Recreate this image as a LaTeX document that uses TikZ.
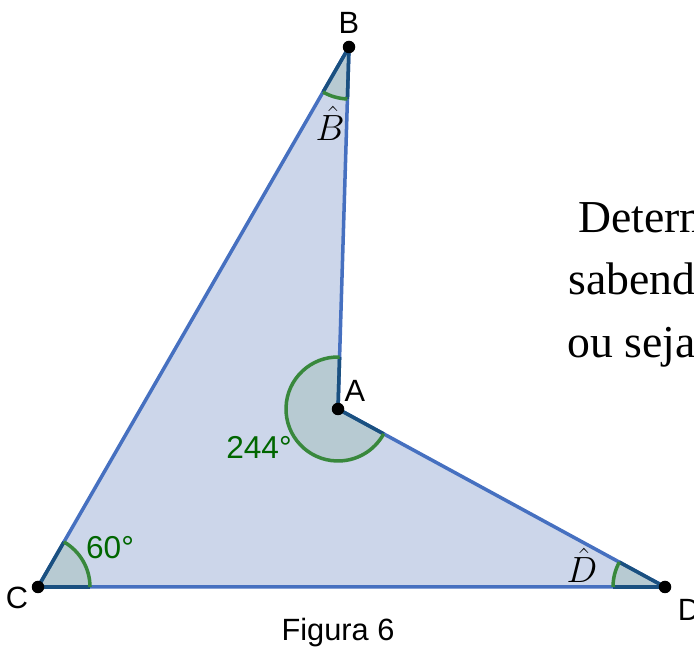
\documentclass[tikz,border=0pt]{standalone}
\usepackage{fontspec}
\setmainfont{Liberation Serif}
\newfontfamily\lblfont{Liberation Sans}
\usetikzlibrary{positioning}

\definecolor{edgeblue}{RGB}{70,112,192}
\definecolor{polyfill}{RGB}{204,214,234}
\definecolor{arcgreen}{RGB}{56,136,60}
\definecolor{anggreen}{RGB}{0,102,0}
\definecolor{raydark}{RGB}{26,80,128}

\newcommand{\secr}{1.04}
% angle mark: vertex, start angle, end angle
\newcommand{\angsector}[3]{%
  \fill[sec] (#1) -- ++(#2:\secr) arc[start angle=#2, end angle=#3, radius=\secr] -- cycle;
  \draw[ray] (#1) -- ++(#2:\secr);
  \draw[ray] (#1) -- ++(#3:\secr);
  \draw[arcln] ([shift={(#2:\secr)}]#1) arc[start angle=#2, end angle=#3, radius=\secr];}

\begin{document}
\begin{tikzpicture}[
    pt/.style={circle, fill=black, inner sep=0pt, minimum size=0.25cm},
    lbl/.style={font=\lblfont\fontsize{17.5}{21}\selectfont, inner sep=0pt},
    ang/.style={font=\lblfont\fontsize{18}{21}\selectfont, text=anggreen, inner sep=0pt},
    hat/.style={font=\fontsize{20}{24}\selectfont, inner sep=0pt},
    txt/.style={font=\fontsize{26}{31}\selectfont, anchor=base west, inner sep=0pt},
    side/.style={draw=edgeblue, line width=2pt, line join=round},
    arcln/.style={draw=arcgreen, line width=2pt},
    ray/.style={draw=raydark, line width=2pt},
    sec/.style={fill=anggreen, fill opacity=0.1}
  ]
  \useasboundingbox (0,0) rectangle (13.88,13);
  \clip (0,0) rectangle (13.88,13);

  \coordinate (B) at (6.98,12.06);
  \coordinate (A) at (6.76,4.82);
  \coordinate (C) at (0.76,1.26);
  \coordinate (D) at (13.30,1.26);

  \fill[polyfill] (B) -- (A) -- (D) -- (C) -- cycle;
  \draw[side] (B) -- (A) -- (D) -- (C) -- cycle;

  \angsector{C}{0}{60.06}
  \angsector{B}{240.06}{268.26}
  \angsector{A}{88.26}{331.44}
  \angsector{D}{151.44}{180}

  \node[pt] (dotA) at (A) {};
  \node[pt] (dotB) at (B) {};
  \node[pt] (dotC) at (C) {};
  \node[pt] (dotD) at (D) {};

  \node[lbl] (labB) at (6.98,12.54) {B};
  \node[lbl] (labA) at (7.10,5.18) {A};
  \node[lbl] (labC) at (0.34,1.04) {C};
  \node[lbl] (labD) at (13.78,0.80) {D};

  \node[ang] (angC) at (2.20,2.04) {60°};
  \node[ang] (angA) at (5.18,4.06) {244°};
  \node[hat] (hatB) at (6.60,10.54) {$\hat{B}$};
  \node[hat] (hatD) at (11.64,1.70) {$\hat{D}$};

  \node[lbl] (cap) at (6.76,0.34) {Figura 6};

  \node[txt] (ln1) at (11.56,8.34) {Determ};
  \node[txt] (ln2) at (11.36,7.10) {sabend};
  \node[txt] (ln3) at (11.34,5.84) {ou seja};
\end{tikzpicture}
\end{document}
